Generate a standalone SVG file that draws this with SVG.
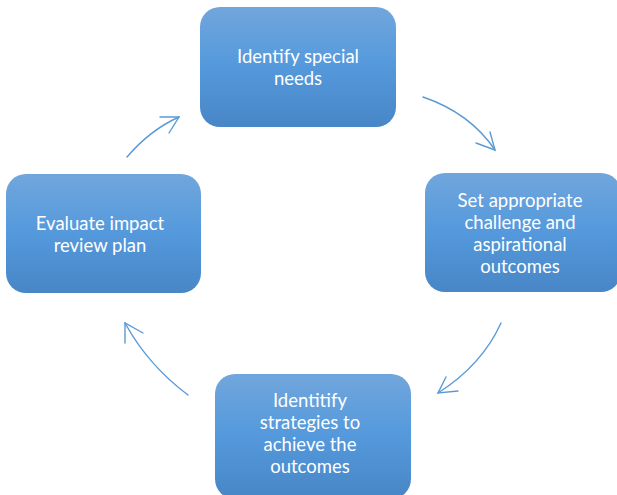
<svg xmlns="http://www.w3.org/2000/svg" width="617" height="495" viewBox="0 0 617 495">
<defs>
<linearGradient id="g" x1="0" y1="0" x2="0" y2="1">
<stop offset="0" stop-color="#71a6dc"/>
<stop offset="0.5" stop-color="#5499dc"/>
<stop offset="1" stop-color="#4886c6"/>
</linearGradient>
<style>
.box{fill:url(#g);}
.t{font-family:"Lato","Open Sans","Liberation Sans",sans-serif;font-size:18.5px;fill:#ffffff;text-anchor:middle;}
.c{fill:none;stroke:#5b9bd5;stroke-width:1.4;stroke-linecap:round;}
</style>
</defs>
<rect width="617" height="495" fill="#ffffff"/>
<g id="connectors">
<path class="c" d="M423,97 Q470,113 495,150"/>
<path class="c" d="M490,132 L495,150 L476,143"/>
<path class="c" d="M501,323 Q482,365 438,393"/>
<path class="c" d="M446,377 L438,393 L458,391"/>
<path class="c" d="M188,395 Q148,365 125,323"/>
<path class="c" d="M125,343 L125,323 L143,333"/>
<path class="c" d="M127,157 Q150,130 179,117"/>
<path class="c" d="M160,117 L179,117 L169,133"/>
</g>
<g id="n1">
<rect class="box" x="200" y="7" width="196" height="120" rx="20"/>
<text class="t" x="298" y="63">Identify special</text>
<text class="t" x="298" y="85">needs</text>
</g>
<g id="n2">
<rect class="box" x="425" y="173" width="196" height="119" rx="20"/>
<text class="t" x="520" y="207">Set appropriate</text>
<text class="t" x="520" y="229">challenge and</text>
<text class="t" x="520" y="251">aspirational</text>
<text class="t" x="520" y="273">outcomes</text>
</g>
<g id="n3">
<rect class="box" x="215" y="374" width="196" height="125" rx="20"/>
<text class="t" x="310" y="407">Identitify</text>
<text class="t" x="310" y="429">strategies to</text>
<text class="t" x="310" y="451">achieve the</text>
<text class="t" x="310" y="473">outcomes</text>
</g>
<g id="n4">
<rect class="box" x="6" y="174" width="195" height="119" rx="20"/>
<text class="t" x="100" y="230">Evaluate impact</text>
<text class="t" x="100" y="252">review plan</text>
</g>
</svg>
